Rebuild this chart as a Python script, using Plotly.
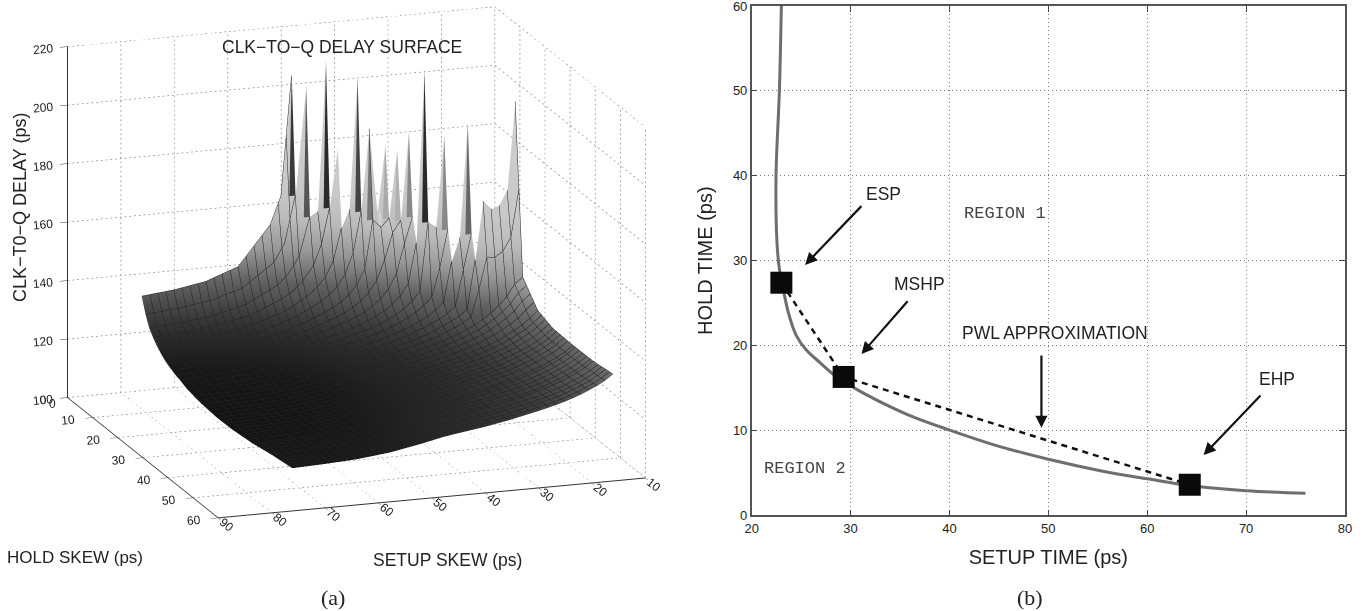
import plotly.graph_objects as go

N = None
SETUP_SKEW = [16,17.5,19,20.5,22,23.5,25,26.5,28,29.5,31,32.5,34,35.5,37,38.5,40,41.5,43,44.5,46,48,50,52,58,64,70,76]
HOLD_SKEW = [0,1.5,3,4.5,6,7.5,9,10.5,12,13.5,15,16.5,18,19.5,21,24,30,36,44,52,60]
DELAY = [
 [N]*21+[203,162,152.6,139.3,135.3,133.4,132.3],
 [N]*20+[200,163,147,140.7,132.9,129.7,128.1,127.1],
 [N]*18+[209,158,156.4,143.2,137.5,134,128.4,125.7,124.3,123.4],
 [N]*17+[180,160,147.9,140.8,135.8,132.4,130.2,125.7,123.4,122.1,121.2],
 [N]*15+[205,160,153.8,142.9,137.6,134.4,131.4,129.2,127.3,123.5,121.4,120.2,119.4],
 [N]*12+[182,158,188,160,146.1,139,135,132.4,130.5,128.5,126.7,125.2,121.8,119.8,118.7,118],
 [N]*11+[181,158,155,158,141.4,136.2,133,130.8,129.2,127.8,126.3,124.8,123.4,120.4,118.5,117.5,116.8],
 [N]*10+[188,158,154,145.1,138.2,134.2,131.6,129.7,128.2,127,126,124.7,123.4,122.2,119.3,117.5,116.5,115.9],
 [N]*10+[160,151.1,141.1,136,132.9,130.7,128.9,127.6,126.4,125.5,124.6,123.5,122.3,121.2,118.4,116.8,115.9,115.2],
 [N]*9+[211,152,138.4,134.5,131.8,129.8,128.3,127,125.9,125,124.2,123.4,122.4,121.3,120.2,117.7,116,115.2,114.5],
 [N]*7+[189,158,160,136.6,133.4,131.1,129.3,127.9,126.7,125.6,124.8,124,123.3,122.6,121.7,120.6,119.6,117.1,115.5,114.7,114.1],
 [N]*7+[158,145,135.4,132.7,130.6,129,127.6,126.4,125.4,124.5,123.8,123,122.4,121.7,120.9,119.9,118.9,116.4,114.9,114.1,113.5],
 [N]*5+[195,156,148,134.3,131.9,130.1,128.6,127.3,126.1,125.2,124.3,123.5,122.8,122.1,121.5,121,120.1,119.2,118.2,115.8,114.3,113.5,112.9],
 [N]*5+[158,146,133.7,131.6,129.9,128.5,127.3,126.2,125.2,124.3,123.5,122.8,122.1,121.5,121,120.4,119.6,118.7,117.7,115.4,113.9,113.2,112.6],
 [203,173,168,167,170,150,133.4,131.4,129.9,128.5,127.3,126.2,125.3,124.3,123.6,122.8,122.1,121.5,121,120.4,119.9,119.1,118.2,117.3,115,113.6,112.8,112.3],
 [145,142.9,138.8,136,133.7,131.8,130.2,128.9,127.7,126.7,125.7,124.8,124,123.2,122.5,121.9,121.2,120.7,120.2,119.7,119.2,118.4,117.5,116.7,114.4,113,112.3,111.8],
 [137.7,135.2,133.2,131.6,130.1,128.8,127.7,126.7,125.8,125,124.2,123.5,122.8,122.1,121.5,120.9,120.3,119.8,119.3,118.9,118.4,117.7,116.9,116,113.8,112.5,111.8,111.3],
 [135.7,133.6,131.8,130.4,129.1,128,127,126,125.2,124.5,123.8,123.1,122.4,121.8,121.2,120.7,120.1,119.6,119.2,118.8,118.3,117.7,116.8,116,113.9,112.6,111.9,111.4],
 [135.4,133.4,131.8,130.5,129.2,128.2,127.2,126.3,125.6,124.8,124.2,123.6,122.9,122.3,121.7,121.2,120.7,120.2,119.8,119.4,119,118.3,117.5,116.7,114.6,113.3,112.6,112.2],
 [135.5,133.6,132,130.8,129.6,128.6,127.7,126.9,126.2,125.5,124.9,124.3,123.7,123.1,122.6,122.1,121.6,121.2,120.8,120.4,120,119.4,118.6,117.8,115.8,114.6,114,113.6],
 [136.5,134.6,133,131.8,130.6,129.6,128.7,127.9,127.2,126.5,125.9,125.3,124.7,124.1,123.6,123.1,122.6,122.2,121.8,121.4,121,120.4,119.6,118.8,116.8,115.6,115,114.6],
]
SPIKE_SETUP = [48,46,43,38.5,37,34,32.5,31,29.5,26.5,23.5]
SPIKE_HOLD = [0,1.5,3,6,7.5,7.5,9,10.5,13.5,15,18]
SPIKE_GREY = ["#383838","#555555","#2a2a2a","#444444","#777777","#aaaaaa","#b0b0b0","#888888","#2a2a2a","#888888","#666666"]
SETUP_TICKS = [10,20,30,40,50,60,70,80,90]
HOLD_TICKS = [0,10,20,30,40,50,60]
DELAY_TICKS = [100,120,140,160,180,200,220]
MESH_SETUP = [s for s in SETUP_SKEW if s != 50] + [49,50.5,53.5,55,56.5,59.5,61,62.5,65.5,67,68.5,71.5,73,74.5]
MESH_HOLD = HOLD_SKEW + [22.5,25.5,27,28.5,31.5,33,34.5,37.5,39,40.5,42,45,46.5,48,49.5,51,54,55.5,57,58.5]

CURVE_SETUP = [23,22.8,22.46,22.55,22.8,23.1,23.7,24.5,25.5,26.9,28.7,31.3,35.7,40.1,44.5,50,55.5,60,64.3,70,76]
CURVE_HOLD = [60,50,40,32.3,29,27.2,23.9,21.2,19.5,18,16.2,14.4,11.9,10,8.3,6.6,5.2,4.3,3.5,2.9,2.6]
POINT_SETUP = [23,29.3,64.3]
POINT_HOLD = [27.4,16.3,3.6]

W, H = 1371, 611
SANS = "Liberation Sans"

fig = go.Figure()

def dotted(p0, p1, pieces):
    xs, ys, zs = [], [], []
    for i in range(pieces):
        a, b = i/pieces, (i+0.4)/pieces
        xs += [p0[0]+(p1[0]-p0[0])*a, p0[0]+(p1[0]-p0[0])*b, N]
        ys += [p0[1]+(p1[1]-p0[1])*a, p0[1]+(p1[1]-p0[1])*b, N]
        zs += [p0[2]+(p1[2]-p0[2])*a, p0[2]+(p1[2]-p0[2])*b, N]
    return xs, ys, zs
guides = []
for t in SETUP_TICKS:
    guides += [((t,60,100),(t,0,100),38), ((t,0,100),(t,0,220),75)]
for t in HOLD_TICKS:
    guides += [((90,t,100),(10,t,100),90), ((10,t,100),(10,t,220),75)]
for t in DELAY_TICKS:
    guides += [((90,0,t),(10,0,t),90), ((10,0,t),(10,60,t),38)]
gx, gy, gz = [], [], []
for g in guides:
    a, b, c = dotted(*g)
    gx += a; gy += b; gz += c
fig.add_trace(go.Scatter3d(x=gx, y=gy, z=gz, mode="lines", hoverinfo="skip", showlegend=False,
                           connectgaps=False, line=dict(color="#777777", width=1.2)))
fig.add_trace(go.Surface(
    x=SETUP_SKEW, y=HOLD_SKEW, z=DELAY, showscale=False, cmin=105, cmax=190,
    colorscale=[[0,"#0a0a0a"],[0.118,"#181818"],[0.235,"#383838"],[0.353,"#666666"],[0.47,"#a8a8a8"],[0.588,"#d0d0d0"],[0.706,"#dedede"],[1,"#e4e4e4"]],
    lighting=dict(ambient=0.9, diffuse=0.2, specular=0.0, roughness=1),
))

def lerp(v, grid, get):
    for i in range(len(grid)-1):
        if grid[i] <= v <= grid[i+1]:
            a, b = get(i), get(i+1)
            if a is None or b is None:
                return N
            f = (v-grid[i])/(grid[i+1]-grid[i])
            return a*(1-f)+b*f
    return N

lx, ly, lz = [], [], []
LIFT = 0.12
for s in sorted(MESH_SETUP):
    for j, h in enumerate(HOLD_SKEW):
        z = lerp(s, SETUP_SKEW, lambda i: DELAY[j][i])
        lx.append(s+LIFT); ly.append(h+LIFT); lz.append(N if z is None else z+LIFT)
    lx.append(N); ly.append(N); lz.append(N)
for h in sorted(MESH_HOLD):
    for i, s in enumerate(SETUP_SKEW):
        z = lerp(h, HOLD_SKEW, lambda j: DELAY[j][i])
        lx.append(s+LIFT); ly.append(h+LIFT); lz.append(N if z is None else z+LIFT)
    lx.append(N); ly.append(N); lz.append(N)
fig.add_trace(go.Scatter3d(x=lx, y=ly, z=lz, mode="lines", hoverinfo="skip", showlegend=False,
                           connectgaps=False, line=dict(color="#222222", width=1)))

mx, my, mz, mi, mj, mk, mc = [], [], [], [], [], [], []
for s, h, g in zip(SPIKE_SETUP, SPIKE_HOLD, SPIKE_GREY):
    i0 = SETUP_SKEW.index(s); j0 = HOLD_SKEW.index(h)
    n = len(mx)
    foot = DELAY[j0+1][i0]
    mx += [s+0.06, s+0.06, s+1.2]; my += [h+0.06, HOLD_SKEW[j0+1]+0.06, HOLD_SKEW[j0+1]+0.06]; mz += [DELAY[j0][i0], foot, foot]
    mi.append(n); mj.append(n+1); mk.append(n+2); mc.append(g)
fig.add_trace(go.Mesh3d(x=mx, y=my, z=mz, i=mi, j=mj, k=mk, facecolor=mc, flatshading=True, hoverinfo="skip",
                        lighting=dict(ambient=1, diffuse=0, specular=0), showscale=False))

axis3d = dict(showgrid=False, showbackground=False, showline=True, linecolor="#333333", linewidth=2,
              ticks="outside", ticklen=8, tickcolor="#333333", zeroline=False, showspikes=False,
              tickfont=dict(family=SANS, size=12, color="#222222"), title=dict(text=""))
fig.update_layout(
    width=W, height=H, paper_bgcolor="white", plot_bgcolor="white",
    margin=dict(l=0,r=0,t=0,b=0), showlegend=False,
    scene=dict(
        domain=dict(x=[0,713/W], y=[0,1]),
        xaxis=dict(axis3d, range=[10,90], tickvals=SETUP_TICKS),
        yaxis=dict(axis3d, range=[0,60], tickvals=HOLD_TICKS),
        zaxis=dict(axis3d, range=[100,220], tickvals=DELAY_TICKS),
        aspectmode="manual", aspectratio=dict(x=1.478, y=1.524, z=1.194),
        camera=dict(projection=dict(type="orthographic"), eye=dict(x=0.40,y=1.17,z=0.204),
                    center=dict(x=0,y=0,z=-0.147), up=dict(x=0,y=0,z=1)),
    ),
    xaxis=dict(domain=[751.7/W,1345/W], range=[20,80], tickvals=[20,30,40,50,60,70,80], ticks="inside", ticklen=6,
               showgrid=True, gridcolor="#777777", griddash="1px,3px", gridwidth=1, zeroline=False, automargin=False,
               showline=True, mirror="ticks", linecolor="#555555", linewidth=1.5, ticklabeloverflow="allow",
               tickfont=dict(family=SANS, size=13, color="#222222"),
               title=dict(text="SETUP TIME (ps)", font=dict(family=SANS, size=20, color="#222222"))),
    yaxis=dict(domain=[1-515.3/H,1-6/H], range=[0,60], tickvals=[0,10,20,30,40,50,60], ticks="inside", ticklen=6,
               showgrid=True, gridcolor="#777777", griddash="1px,3px", gridwidth=1, zeroline=False, automargin=False,
               showline=True, mirror="ticks", linecolor="#555555", linewidth=1.5, ticklabeloverflow="allow",
               tickfont=dict(family=SANS, size=13, color="#222222"),
               title=dict(text="HOLD TIME (ps)", font=dict(family=SANS, size=20, color="#222222"))),
)
fig.add_trace(go.Scatter(x=CURVE_SETUP, y=CURVE_HOLD, mode="lines", line=dict(color="#6e6e6e", width=3, shape="spline"), hoverinfo="skip"))
fig.add_trace(go.Scatter(x=POINT_SETUP, y=POINT_HOLD, mode="lines", line=dict(color="#111111", width=2.5, dash="6px,5px"), hoverinfo="skip"))
fig.add_trace(go.Scatter(x=POINT_SETUP, y=POINT_HOLD, mode="markers", marker=dict(symbol="square", size=22, color="#0a0a0a"), hoverinfo="skip"))

def txt(x, y, s, size=17.5, family=SANS, xref="x", yref="y", color="#222222", **kw):
    fig.add_annotation(x=x, y=y, xref=xref, yref=yref, text=s, showarrow=False, xanchor="center", yanchor="middle",
                       font=dict(family=family, size=size, color=color), **kw)
txt(33.3,37.8,"ESP"); txt(37,27.2,"MSHP"); txt(50.7,21.5,"PWL APPROXIMATION"); txt(73.1,16,"EHP")
txt(45.6,35.5,"REGION 1",size=17,family="Liberation Mono",color="#444444"); txt(25.4,5.5,"REGION 2",size=17,family="Liberation Mono",color="#444444")
for x0,y0,x1,y1 in [(31.24,36.6,25.4,29.5),(35.9,25.4,31.1,19),(49.3,19,49.3,10.3),(71.6,14.3,65.7,7.1)]:
    fig.add_annotation(x=x1,y=y1,ax=x0,ay=y0,xref="x",yref="y",axref="x",ayref="y",text="",showarrow=True,
                       arrowhead=2,arrowsize=1.1,arrowwidth=2.2,arrowcolor="#111111")
def ptxt(px,py,s,**kw):
    txt(px/W,1-py/H,s,xref="paper",yref="paper",**kw)
ptxt(341.5,47,"CLK\u2212TO\u2212Q DELAY SURFACE")
ptxt(20,208,"CLK\u2212T0\u2212Q DELAY (ps)",size=18,textangle=-90)
ptxt(75,557,"HOLD SKEW (ps)",size=17)
ptxt(447,560,"SETUP SKEW (ps)")
ptxt(52,404,"0",size=12)
ptxt(332.5,597,"(a)",size=22,family="Liberation Serif")
ptxt(1030,597,"(b)",size=22,family="Liberation Serif")
fig.write_html("out.html", config=dict(displayModeBar=False), post_script="document.body.style.margin='0';")
